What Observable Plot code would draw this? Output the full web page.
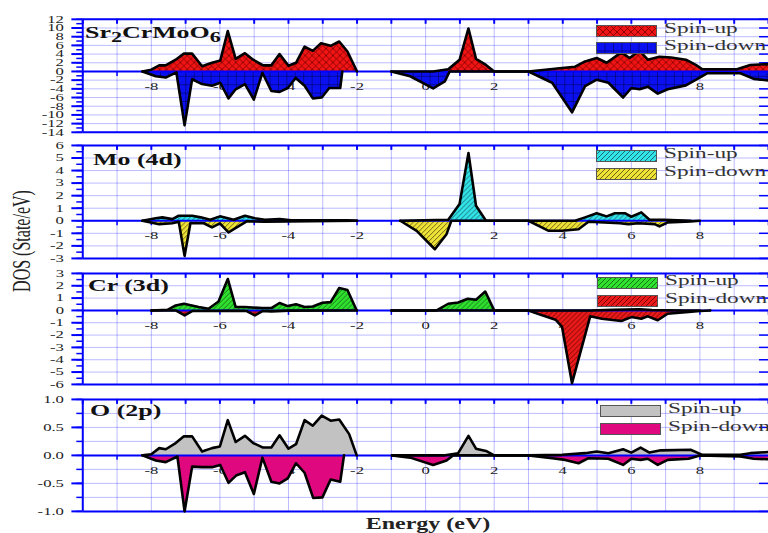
<!DOCTYPE html>
<html><head><meta charset="utf-8">
<script src="https://cdn.jsdelivr.net/npm/d3@7"></script>
<script src="https://cdn.jsdelivr.net/npm/@observablehq/plot@0.6"></script>
<style>
html,body{margin:0;padding:0;background:#fff}
body{width:768px;height:533px;overflow:hidden;position:relative;font-family:"Liberation Serif",serif}
.pnl{position:absolute;left:0}
.t{position:absolute;white-space:nowrap;line-height:1;transform-origin:0 0;color:#111}
.lg{position:absolute;white-space:nowrap;line-height:1;transform-origin:0 0;transform:scaleX(1.55);font-size:15px;color:#333}
.sw{position:absolute}
.sub{position:relative;top:0.3em;font-size:0.85em}
</style></head><body>
<svg width="0" height="0" style="position:absolute">
<defs>
<pattern id="pRedX" width="7" height="7" patternUnits="userSpaceOnUse">
<rect width="7" height="7" fill="#f01414"/><path d="M0,0L7,7M7,0L0,7" stroke="#7a0000" stroke-width="0.8"/></pattern>
<pattern id="pBlueGrid" width="8.5" height="8.5" patternUnits="userSpaceOnUse">
<rect width="8.5" height="8.5" fill="#0a10f0"/><path d="M0,0V8.5M0,0H8.5" stroke="#000033" stroke-width="0.9"/></pattern>
<pattern id="pCyan" width="5" height="5" patternUnits="userSpaceOnUse">
<rect width="5" height="5" fill="#30e4e8"/><path d="M-1,1L1,-1M0,5L5,0M4,6L6,4" stroke="#1a4a55" stroke-width="0.8"/></pattern>
<pattern id="pYellow" width="5" height="5" patternUnits="userSpaceOnUse">
<rect width="5" height="5" fill="#eee236"/><path d="M-1,1L1,-1M0,5L5,0M4,6L6,4" stroke="#4a4510" stroke-width="0.8"/></pattern>
<pattern id="pGreen" width="5" height="5" patternUnits="userSpaceOnUse">
<rect width="5" height="5" fill="#2fe02f"/><path d="M-1,1L1,-1M0,5L5,0M4,6L6,4" stroke="#0f5a0f" stroke-width="0.8"/></pattern>
<pattern id="pRedH" width="5" height="5" patternUnits="userSpaceOnUse">
<rect width="5" height="5" fill="#ea1a1a"/><path d="M-1,1L1,-1M0,5L5,0M4,6L6,4" stroke="#600000" stroke-width="0.8"/></pattern>
<pattern id="pGrey" width="5" height="5" patternUnits="userSpaceOnUse">
<rect width="5" height="5" fill="#c2c2c2"/></pattern>
<pattern id="pMag" width="5" height="5" patternUnits="userSpaceOnUse">
<rect width="5" height="5" fill="#e0087e"/></pattern>
</defs></svg>
<div id="root"></div>
<script>
// ---- data: [energy (eV), DOS] ; NaN splits the curve ----
const energyTicks = d3.range(-10, 11, 1);
const energyLabels = [-8, -6, -4, -2, 0, 2, 4, 6, 8];

const totUp = [[-8.26,0],[-8.0,0.4],[-7.77,1.4],[-7.58,1.4],[-7.29,2.7],[-7.05,4.1],[-6.81,4.1],[-6.52,1.2],[-6.23,2.0],[-5.99,2.5],[-5.77,9.3],[-5.54,2.9],[-5.27,4.2],[-5.03,2.7],[-4.74,1.4],[-4.5,1.4],[-4.26,4.0],[-4.0,1.3],[-3.78,2.0],[-3.53,5.7],[-3.29,4.75],[-3.05,6.5],[-2.77,5.9],[-2.52,6.9],[-2.28,4.6],[-2.0,0],[-1.5,NaN],[-1.0,0],[0.22,0],[0.66,0.5],[0.99,2.7],[1.25,9.9],[1.47,2.9],[1.76,1.5],[2.0,0],[3.0,0],[3.98,0.8],[4.36,1.1],[4.65,2.3],[4.99,3.1],[5.28,2.0],[5.71,4.4],[5.95,3.1],[6.24,4.75],[6.48,2.7],[6.82,3.4],[7.16,3.2],[7.59,2.7],[7.88,1.5],[8.07,0.5],[9.08,0.5],[9.47,1.5],[10,1.7]];
const totDown = [[-8.26,0],[-7.87,-1.1],[-7.58,-1.4],[-7.27,-0.2],[-7.03,-12.4],[-6.81,-1.8],[-6.52,-2.9],[-6.23,-3.3],[-5.99,-2.6],[-5.75,-6.2],[-5.54,-4.1],[-5.27,-2.9],[-5.01,-6.5],[-4.76,-0.3],[-4.5,-4.5],[-4.26,-4.7],[-4.02,-3.8],[-3.79,-1.5],[-3.53,-3.3],[-3.29,-6.2],[-3.03,-6.0],[-2.81,-3.8],[-2.49,-3.8],[-2.43,0],[-1.5,NaN],[-1.0,0],[-0.45,-1.1],[0.22,-3.9],[0.56,-2.3],[0.7,0],[3.0,0],[3.69,-2.6],[4.27,-9.4],[4.65,-3.4],[4.99,-1.9],[5.33,-2.6],[5.76,-6.0],[6.0,-3.8],[6.24,-4.1],[6.48,-3.5],[6.77,-5.1],[7.06,-4.1],[7.59,-3.2],[7.98,-1.5],[8.22,-0.4],[9.18,-0.4],[9.57,-1.7],[10,-2.1]];

const moUp = [[-8.26,0],[-7.87,0.2],[-7.68,0.27],[-7.39,0.13],[-7.2,0.4],[-6.81,0.4],[-6.56,0.27],[-6.28,0.08],[-6.0,0.35],[-5.6,0.08],[-5.27,0.4],[-4.98,0.2],[-4.69,0.08],[-4.26,0.13],[-3.92,0.03],[-2.28,0.03],[-2.0,0],[-1.5,NaN],[-0.74,0],[0.66,0.08],[0.99,1.33],[1.25,5.4],[1.47,1.2],[1.76,0],[3.0,0],[4.36,0],[4.65,0.27],[4.99,0.6],[5.28,0.35],[5.52,0.6],[5.81,0.6],[6.0,0.32],[6.29,0.67],[6.53,0.08],[6.96,0.08],[7.73,0]];
const moDown = [[-8.26,0],[-7.77,-0.27],[-7.39,-0.2],[-7.2,-0.08],[-7.03,-2.8],[-6.86,-0.2],[-6.47,-0.2],[-6.23,-0.53],[-6.0,-0.2],[-5.75,-0.93],[-5.22,-0.05],[-4.69,-0.08],[-2.0,0],[-1.5,NaN],[-0.74,0],[-0.26,-0.8],[0.27,-2.27],[0.61,-1.07],[0.75,0],[3.0,0],[3.59,-0.8],[3.98,-0.8],[4.46,-0.67],[4.75,-0.08],[5.67,-0.2],[5.91,-0.27],[6.2,-0.2],[6.68,-0.27],[6.82,-0.45],[7.06,-0.13],[7.73,-0.05],[8.0,0]];

const crUp = [[-8.0,0],[-7.53,0.05],[-7.29,0.4],[-7.05,0.54],[-6.62,0.27],[-6.33,0.13],[-6.04,0.72],[-5.77,2.55],[-5.54,0.27],[-5.27,0.27],[-4.76,0.19],[-4.5,0.19],[-4.26,0.6],[-4.02,0.35],[-3.78,0.5],[-3.53,0.27],[-3.29,0.32],[-3.01,0.62],[-2.77,0.67],[-2.52,1.82],[-2.28,1.66],[-2.01,0],[-1.5,NaN],[-1.0,0],[0.32,0],[0.66,0.54],[0.95,0.64],[1.23,0.94],[1.47,0.86],[1.74,1.53],[2.0,0],[3.0,0],[4.8,0],[5.5,0.05],[6.24,0.1],[6.6,0.03],[7.5,0],[8.0,0]];
const crDown = [[-8.0,0],[-7.29,0],[-7.03,-0.4],[-6.81,-0.05],[-5.5,-0.03],[-5.22,-0.05],[-4.98,-0.4],[-4.76,-0.05],[-4.5,-0.08],[-4.0,-0.02],[-2.0,0],[-1.5,NaN],[-1.0,0],[2.0,0],[3.0,0],[3.4,-0.4],[3.79,-0.75],[3.98,-1.34],[4.27,-5.9],[4.8,-0.48],[5.14,-0.67],[5.71,-0.86],[6.0,-0.54],[6.29,-0.67],[6.48,-0.48],[6.77,-0.8],[7.06,-0.27],[7.67,-0.13],[8.0,-0.05],[8.3,0]];

const oUp = [[-8.26,0],[-8.0,0.02],[-7.77,0.13],[-7.58,0.11],[-7.29,0.22],[-7.05,0.34],[-6.81,0.34],[-6.52,0.07],[-6.23,0.13],[-6.0,0.16],[-5.77,0.63],[-5.54,0.24],[-5.27,0.35],[-5.03,0.22],[-4.74,0.14],[-4.5,0.14],[-4.26,0.36],[-4.0,0.12],[-3.78,0.2],[-3.53,0.63],[-3.29,0.53],[-3.03,0.71],[-2.77,0.62],[-2.52,0.64],[-2.23,0.38],[-2.01,0],[-1.5,NaN],[-0.98,0],[0.52,0],[0.95,0.04],[1.25,0.35],[1.47,0.12],[1.76,0.08],[2.0,0],[3.0,0],[3.98,0.01],[4.65,0.04],[4.99,0.07],[5.33,0.04],[5.76,0.11],[6.0,0.05],[6.27,0.14],[6.53,0.05],[6.86,0.09],[7.73,0.1],[8.07,0.01],[9.18,0.01],[9.47,0.04],[10,0.06]];
const oDown = [[-8.26,0],[-7.87,-0.09],[-7.58,-0.12],[-7.24,-0.02],[-7.03,-1.0],[-6.81,-0.2],[-6.52,-0.21],[-6.23,-0.21],[-5.99,-0.17],[-5.75,-0.49],[-5.53,-0.36],[-5.27,-0.3],[-5.01,-0.69],[-4.76,-0.04],[-4.5,-0.47],[-4.26,-0.5],[-4.02,-0.41],[-3.78,-0.14],[-3.53,-0.31],[-3.28,-0.76],[-3.01,-0.75],[-2.77,-0.43],[-2.49,-0.47],[-2.38,0],[-1.5,NaN],[-0.98,0],[-0.45,-0.04],[0.22,-0.17],[0.61,-0.09],[0.8,0],[3.0,0],[3.69,-0.05],[4.07,-0.08],[4.46,-0.14],[4.75,-0.05],[5.33,-0.06],[5.76,-0.17],[6.0,-0.06],[6.27,-0.08],[6.48,-0.06],[6.77,-0.17],[7.06,-0.08],[7.67,-0.06],[8.0,0],[9.18,-0.02],[9.57,-0.06],[10,-0.07]];

const panelNames = ["Sr<span class='sub'>2</span>CrMoO<span class='sub'>6</span>", "Mo (4d)", "Cr (3d)", "O (2p)"];
const legendLabels = ["Spin-up", "Spin-down"];

const fmtInt = d => String(d);
const fmt1 = d => d.toFixed(1);

const panels = [
  {top: 0, height: 140, mt: 19, mb: 7, domain: [-14, 12], major: d3.range(-14, 13, 2), minor: d3.range(-14, 13, 1), grid: d3.range(-14, 13, 2), fmt: fmtInt,
   up: totUp, down: totDown, upFill: "url(#pRedX)", downFill: "url(#pBlueGrid)", labelX: 85, labelBase: 38.3, legX: 596, legTxt: 664, legTop: [23, 40]},
  {top: 140, height: 124, mt: 5, mb: 5, domain: [-3, 6], major: d3.range(-3, 7, 1), minor: d3.range(-3, 6.01, 0.5), grid: d3.range(-3, 7, 1), fmt: fmtInt,
   up: moUp, down: moDown, upFill: "url(#pCyan)", downFill: "url(#pYellow)", labelX: 93, labelBase: 165, legX: 596, legTxt: 664, legTop: [148, 166]},
  {top: 265, height: 125, mt: 8, mb: 5, domain: [-6, 3], major: d3.range(-6, 4, 1), minor: d3.range(-6, 3.01, 0.5), grid: d3.range(-6, 4, 1), fmt: fmtInt,
   up: crUp, down: crDown, upFill: "url(#pGreen)", downFill: "url(#pRedH)", labelX: 88, labelBase: 291.7, legX: 597, legTxt: 665, legTop: [275, 293]},
  {top: 390, height: 127, mt: 9, mb: 5, domain: [-1, 1], major: d3.range(-1, 1.01, 0.5), minor: d3.range(-1, 1.01, 0.25), grid: d3.range(-1, 1.01, 0.25), fmt: fmt1,
   up: oUp, down: oDown, upFill: "url(#pGrey)", downFill: "url(#pMag)", labelX: 90, labelBase: 416.7, legX: 600, legTxt: 668, legTop: [403, 421]}
];

const root = document.getElementById("root");
const BLUE = "#0000ff";

panels.forEach((p, k) => {
  const [ymin, ymax] = p.domain;
  const X = d => d[0], Y = d => d[1];
  const svg = Plot.plot({
    width: 775, height: p.height,
    marginLeft: 83, marginRight: 0, marginTop: p.mt, marginBottom: p.mb,
    x: {domain: [-10, 10], axis: null},
    y: {domain: p.domain, axis: null},
    style: {fontFamily: "'Liberation Serif', serif", fontSize: "10.5px", color: "#222", background: "transparent", overflow: "visible"},
    marks: [
      Plot.gridX(energyTicks, {stroke: BLUE, strokeOpacity: 0.27, strokeWidth: 1}),
      Plot.gridY(p.grid, {stroke: BLUE, strokeOpacity: 0.27, strokeWidth: 1}),
      Plot.axisY(p.major, {anchor: "left", tickSize: 11, tickPadding: 8, stroke: BLUE, strokeWidth: 2, tickFormat: p.fmt, label: null}),
      Plot.axisY(p.minor, {anchor: "left", tickSize: 6, stroke: BLUE, strokeWidth: 1.5, tickFormat: () => "", label: null}),
      Plot.axisY(p.major, {anchor: "right", tickSize: 10, dx: -10, stroke: BLUE, strokeWidth: 1.5, tickFormat: () => "", label: null}),
      Plot.text(energyLabels, {x: d => d, y: 0, dy: 15.5, text: d => String(d), fill: "#222"}),
      Plot.ruleX(energyTicks, {x: d => d, y1: ymax, y2: ymax, insetBottom: -5, stroke: BLUE, strokeWidth: 2}),
      Plot.ruleX(energyTicks, {x: d => d, y1: 0, y2: 0, insetBottom: -5, stroke: BLUE, strokeWidth: 1.5}),
      Plot.areaY(p.up, {x: X, y1: 0, y2: Y, fill: "#888"}),
      Plot.areaY(p.down, {x: X, y1: 0, y2: Y, fill: "#888"}),
      Plot.ruleY([0], {stroke: BLUE, strokeWidth: 2}),
      Plot.ruleY([ymin, ymax], {stroke: BLUE, strokeWidth: 2}),
      Plot.ruleX([-10], {stroke: BLUE, strokeWidth: 2}),
      Plot.lineY(p.up, {x: X, y: Y, stroke: "#000", strokeWidth: 2.6, strokeLinejoin: "round"}),
      Plot.lineY(p.down, {x: X, y: Y, stroke: "#000", strokeWidth: 2.6, strokeLinejoin: "round"})
    ]
  });
  // apply hatch patterns to the two area marks
  const areas = svg.querySelectorAll('g[aria-label="area"]');
  [p.upFill, p.downFill].forEach((f, i) => {
    if (areas[i]) {
      areas[i].setAttribute("fill", f);
      areas[i].querySelectorAll("path").forEach(el => el.setAttribute("fill", f));
    }
  });
  // horizontally stretched lettering like the reference
  svg.querySelectorAll("text").forEach(t => {
    const tr = t.getAttribute("transform");
    if (tr && tr.includes("translate")) t.setAttribute("transform", tr + " scale(1.6,1)");
  });
  const wrap = document.createElement("div");
  wrap.className = "pnl";
  wrap.style.top = p.top + "px";
  wrap.appendChild(svg);
  root.appendChild(wrap);

  // panel label
  const lab = document.createElement("div");
  lab.className = "t";
  lab.innerHTML = panelNames[k];
  lab.style.cssText = `left:${p.labelX}px;top:${p.labelBase - 13.4}px;font-size:16px;font-weight:bold;transform:scaleX(1.62);`;
  root.appendChild(lab);

  // legend
  [p.upFill, p.downFill].forEach((f, i) => {
    const sw = document.createElement("div");
    sw.className = "sw";
    sw.style.left = p.legX + "px";
    sw.style.top = p.legTop[i] + "px";
    sw.innerHTML = `<svg width="61" height="12"><rect x="0.5" y="0.5" width="60" height="11" fill="${f}" stroke="#555" stroke-width="1"/></svg>`;
    root.appendChild(sw);
    const tx = document.createElement("div");
    tx.className = "lg";
    tx.textContent = legendLabels[i];
    tx.style.left = p.legTxt + "px";
    tx.style.top = (p.legTop[i] + 10.8 - 12.6) + "px";
    root.appendChild(tx);
  });
});

// axis titles
const yt = document.createElement("div");
yt.className = "t";
yt.textContent = "DOS (State/eV)";
yt.style.cssText = "left:22px;top:241px;font-size:16px;color:#222;transform-origin:50% 50%;transform:translate(-50%,-50%) rotate(-90deg) scaleY(1.6);";
root.appendChild(yt);
const xt = document.createElement("div");
xt.className = "t";
xt.textContent = "Energy (eV)";
xt.style.cssText = "left:428px;top:515.6px;font-size:16px;font-weight:bold;color:#222;transform-origin:50% 50%;transform:translateX(-50%) scaleX(1.5);";
root.appendChild(xt);
</script>
</body></html>
